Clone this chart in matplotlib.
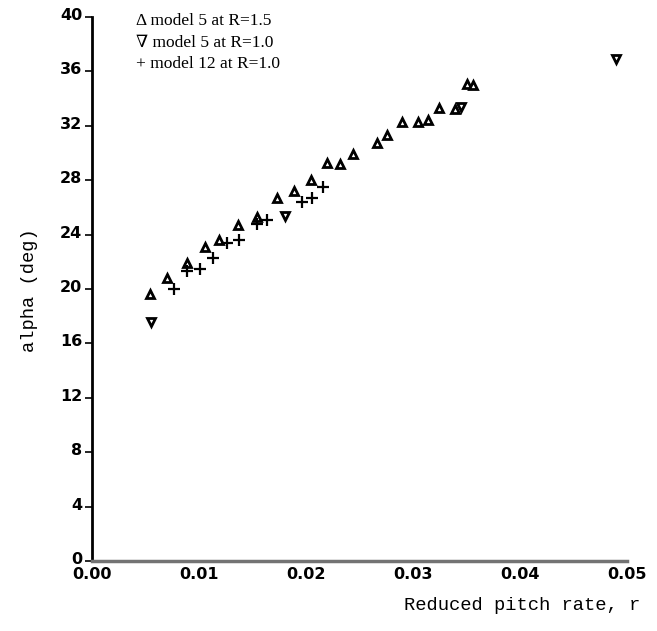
import matplotlib
matplotlib.use("Agg")
import matplotlib.pyplot as plt
from matplotlib.transforms import ScaledTranslation

# model 5 at R=1.5 (up triangles)
r_m5_15 = [0.0054, 0.0070, 0.0089, 0.0106, 0.0119, 0.0136, 0.0154, 0.0173, 0.0189, 0.0205, 0.0220,
           0.0232, 0.0244, 0.0266, 0.0276, 0.0290, 0.0305, 0.0314, 0.0324, 0.0339, 0.0350, 0.0356]
a_m5_15 = [19.6, 20.8, 21.9, 23.1, 23.6, 24.7, 25.3, 26.7, 27.2, 28.0, 29.3,
           29.2, 29.9, 30.7, 31.3, 32.3, 32.3, 32.4, 33.3, 33.2, 35.1, 35.0]

# model 5 at R=1.0 (down triangles)
r_m5_10 = [0.0055, 0.0180, 0.0345, 0.0490]
a_m5_10 = [17.6, 25.4, 33.4, 36.9]

# model 12 at R=1.0 (plus)
r_m12 = [0.0077, 0.0089, 0.0101, 0.0113, 0.0126, 0.0137, 0.0154, 0.0164, 0.0196, 0.0206, 0.0216]
a_m12 = [20.0, 21.3, 21.5, 22.3, 23.4, 23.6, 24.8, 25.1, 26.4, 26.7, 27.5]

xticks = [0.00, 0.01, 0.02, 0.03, 0.04, 0.05]
yticks = [0, 4, 8, 12, 16, 20, 24, 28, 32, 36, 40]
legend_lines = ["\u0394 model 5 at R=1.5", "\u2207 model 5 at R=1.0", "+ model 12 at R=1.0"]

fig = plt.figure(figsize=(6.57, 6.31), dpi=100)
ax = fig.add_axes([92 / 657, 1 - 561 / 631, (627 - 92) / 657, (561 - 17) / 631])

ax.plot(r_m5_15, a_m5_15, linestyle="none", marker="^", markersize=6,
        mfc="white", mec="black", mew=2)
ax.plot(r_m5_10, a_m5_10, linestyle="none", marker="v", markersize=6,
        mfc="white", mec="black", mew=2)
ax.plot(r_m12, a_m12, linestyle="none", marker="+", markersize=8,
        color="black", mew=1.6)

ax.set_xlim(0, 0.05)
ax.set_ylim(0, 40)
ax.set_xticks(xticks)
ax.set_xticklabels(["%.2f" % t for t in xticks])
ax.set_yticks(yticks)

for s in ["top", "right"]:
    ax.spines[s].set_visible(False)
ax.spines["left"].set_linewidth(2)
ax.spines["left"].set_color("black")
ax.spines["bottom"].set_linewidth(2.5)
ax.spines["bottom"].set_color("0.45")

ax.tick_params(axis="y", direction="out", length=5, width=1.2, pad=2)
ax.tick_params(axis="x", length=0, pad=4)
for lab in ax.get_xticklabels() + ax.get_yticklabels():
    lab.set_fontfamily("DejaVu Sans")
    lab.set_fontweight("bold")
    lab.set_fontsize(11.5)
# y labels sit a little above their tick marks, as in the original
shift = ScaledTranslation(0, 3 / 100, fig.dpi_scale_trans)
for lab in ax.get_yticklabels():
    lab.set_transform(lab.get_transform() + shift)

fig.text(640 / 657, 1 - 605 / 631, "Reduced pitch rate, r", ha="right", va="center",
         family="Liberation Mono", fontsize=13.5)
fig.text(30 / 657, 1 - 290 / 631, "alpha (deg)", ha="center", va="center", rotation=90,
         family="Liberation Mono", fontsize=13.5)

for i, line in enumerate(legend_lines):
    fig.text(136 / 657, 1 - (21 + 21.5 * i) / 631, line, ha="left", va="center",
             family=["Liberation Serif", "DejaVu Serif"], fontsize=12.5)

fig.savefig("out.png", dpi=100)
